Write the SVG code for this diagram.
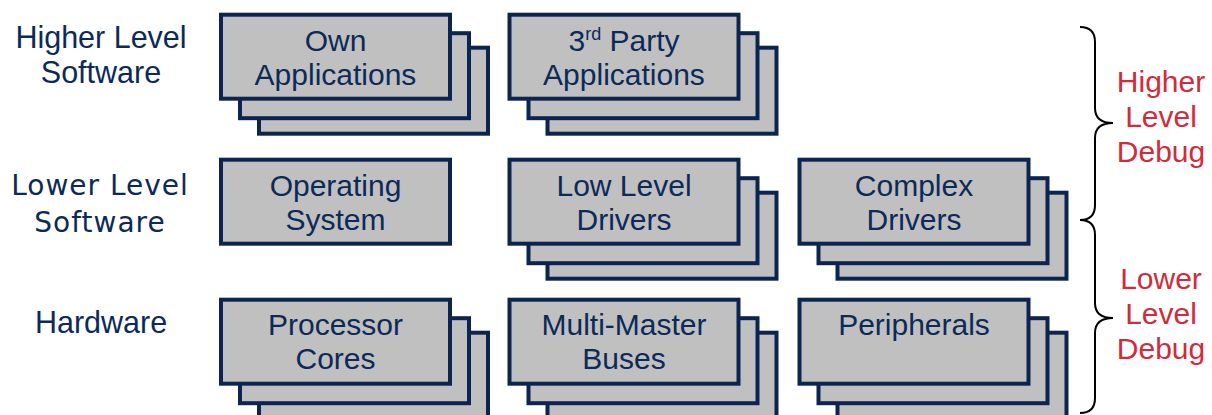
<svg xmlns="http://www.w3.org/2000/svg" width="1212" height="415" viewBox="0 0 1212 415">
  <style>
    .box { fill: #C0C0C0; stroke: #0C2550; stroke-width: 4; }
    .lbl { font-family: "Liberation Sans", Arial, sans-serif; font-size: 30px; fill: #0C2A58; text-anchor: middle; }
    .side { font-family: "Liberation Sans", Arial, sans-serif; font-size: 30.5px; fill: #0C2A58; text-anchor: middle; }
    .side-wide { font-family: "DejaVu Sans", Verdana, sans-serif; font-size: 28px; letter-spacing: 1px; fill: #0C2A58; text-anchor: middle; }
    .debug { font-family: "Liberation Sans", Arial, sans-serif; font-size: 30px; fill: #D22B3B; text-anchor: middle; }
    .brace { fill: none; stroke: #000; stroke-width: 2; }
  </style>
  <defs>
    <!-- three-sheet stack used by most blocks -->
    <g id="stack">
      <rect class="box" x="38" y="33" width="229" height="86"/>
      <rect class="box" x="19" y="18.5" width="229" height="85"/>
      <rect class="box" x="0" y="0" width="229" height="84"/>
    </g>
  </defs>

  <!-- row captions -->
  <g id="caption-higher-sw">
    <text class="side" x="101" y="48">Higher Level</text>
    <text class="side" x="101" y="83">Software</text>
  </g>
  <g id="caption-lower-sw">
    <text class="side-wide" x="100" y="195">Lower Level</text>
    <text class="side-wide" x="100" y="232">Software</text>
  </g>
  <g id="caption-hw">
    <text class="side" x="101" y="333">Hardware</text>
  </g>

  <!-- higher level software -->
  <g id="own-apps">
    <use href="#stack" x="221" y="14.7"/>
    <text class="lbl" x="335.5" y="51">Own</text>
    <text class="lbl" x="335.5" y="85">Applications</text>
  </g>
  <g id="third-party-apps">
    <use href="#stack" x="509.5" y="14.7"/>
    <text class="lbl" x="624" y="51">3<tspan font-size="18" dy="-11">rd</tspan><tspan dy="11"> Party</tspan></text>
    <text class="lbl" x="624" y="85">Applications</text>
  </g>

  <!-- lower level software -->
  <g id="operating-system">
    <rect class="box" x="221" y="159.7" width="229" height="84"/>
    <text class="lbl" x="335.5" y="196">Operating</text>
    <text class="lbl" x="335.5" y="229.5">System</text>
  </g>
  <g id="low-level-drivers">
    <use href="#stack" x="509.5" y="159.7"/>
    <text class="lbl" x="624" y="196">Low Level</text>
    <text class="lbl" x="624" y="229.5">Drivers</text>
  </g>
  <g id="complex-drivers">
    <use href="#stack" x="799.5" y="159.7"/>
    <text class="lbl" x="914" y="196">Complex</text>
    <text class="lbl" x="914" y="229.5">Drivers</text>
  </g>

  <!-- hardware -->
  <g id="processor-cores">
    <use href="#stack" x="221" y="299.7"/>
    <text class="lbl" x="335.5" y="335">Processor</text>
    <text class="lbl" x="335.5" y="368.5">Cores</text>
  </g>
  <g id="multi-master-buses">
    <use href="#stack" x="509.5" y="299.7"/>
    <text class="lbl" x="624" y="335">Multi-Master</text>
    <text class="lbl" x="624" y="368.5">Buses</text>
  </g>
  <g id="peripherals">
    <use href="#stack" x="799.5" y="299.7"/>
    <text class="lbl" x="914" y="335">Peripherals</text>
  </g>

  <!-- debug ranges -->
  <g id="connectors">
    <path class="brace" d="M1080,27 Q1095,27 1095,42 L1095,108 Q1095,123 1113,123 Q1095,123 1095,138 L1095,205 Q1095,220 1080,220"/>
    <path class="brace" d="M1080,220 Q1095,220 1095,235 L1095,303 Q1095,318 1113,318 Q1095,318 1095,333 L1095,398 Q1095,413 1080,413"/>
  </g>
  <g id="higher-debug">
    <text class="debug" x="1161" y="91.5">Higher</text>
    <text class="debug" x="1161" y="126.5">Level</text>
    <text class="debug" x="1161" y="161.5">Debug</text>
  </g>
  <g id="lower-debug">
    <text class="debug" x="1161" y="288.5">Lower</text>
    <text class="debug" x="1161" y="323.5">Level</text>
    <text class="debug" x="1161" y="359">Debug</text>
  </g>
</svg>
